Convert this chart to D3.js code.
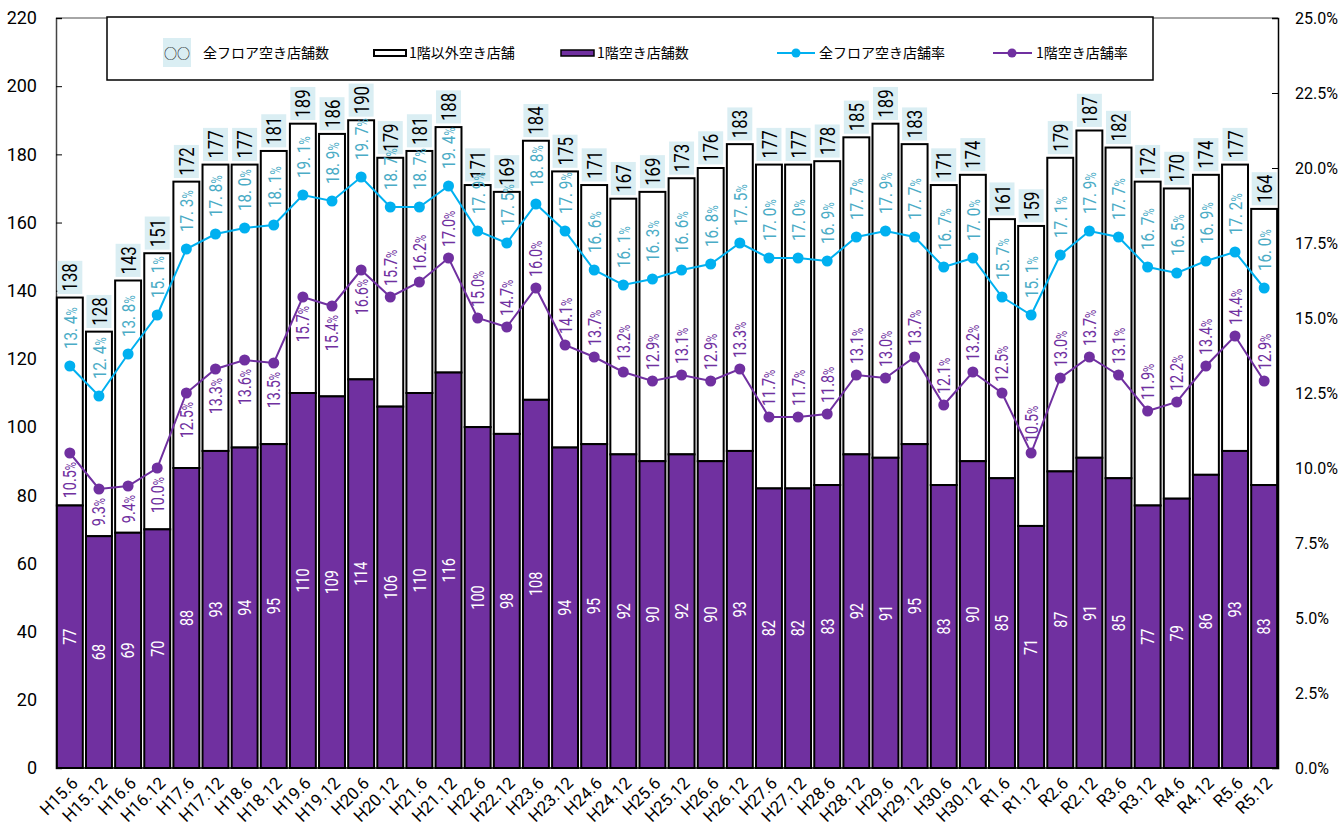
<!DOCTYPE html>
<html>
<head>
<meta charset="utf-8">
<script src="https://cdn.jsdelivr.net/npm/d3@7"></script>
<style>
  body { margin: 0; background: #fff; }
  svg { display: block; font-family: Roboto, "Liberation Sans", Arial, sans-serif; }
</style>
</head>
<body>
<div id="chart"></div>
<script>
// data
const categories = [
  "H15.6", "H15.12", "H16.6", "H16.12", "H17.6", "H17.12", "H18.6", "H18.12",
  "H19.6", "H19.12", "H20.6", "H20.12", "H21.6", "H21.12", "H22.6", "H22.12",
  "H23.6", "H23.12", "H24.6", "H24.12", "H25.6", "H25.12", "H26.6", "H26.12",
  "H27.6", "H27.12", "H28.6", "H28.12", "H29.6", "H29.12", "H30.6", "H30.12",
  "R1.6", "R1.12", "R2.6", "R2.12", "R3.6", "R3.12", "R4.6", "R4.12", "R5.6", "R5.12"
]
const totalShops = [
  138, 128, 143, 151, 172, 177, 177, 181, 189, 186, 190, 179, 181, 188, 171, 169,
  184, 175, 171, 167, 169, 173, 176, 183, 177, 177, 178, 185, 189, 183, 171, 174,
  161, 159, 179, 187, 182, 172, 170, 174, 177, 164
]
const firstFloorShops = [
  77, 68, 69, 70, 88, 93, 94, 95, 110, 109, 114, 106, 110, 116, 100, 98,
  108, 94, 95, 92, 90, 92, 90, 93, 82, 82, 83, 92, 91, 95, 83, 90,
  85, 71, 87, 91, 85, 77, 79, 86, 93, 83
]
const totalRate = [
  13.4, 12.4, 13.8, 15.1, 17.3, 17.8, 18.0, 18.1, 19.1, 18.9, 19.7, 18.7, 18.7, 19.4, 17.9, 17.5,
  18.8, 17.9, 16.6, 16.1, 16.3, 16.6, 16.8, 17.5, 17.0, 17.0, 16.9, 17.7, 17.9, 17.7, 16.7, 17.0,
  15.7, 15.1, 17.1, 17.9, 17.7, 16.7, 16.5, 16.9, 17.2, 16.0
]
const firstFloorRate = [
  10.5, 9.3, 9.4, 10.0, 12.5, 13.3, 13.6, 13.5, 15.7, 15.4, 16.6, 15.7, 16.2, 17.0, 15.0, 14.7,
  16.0, 14.1, 13.7, 13.2, 12.9, 13.1, 12.9, 13.3, 11.7, 11.7, 11.8, 13.1, 13.0, 13.7, 12.1, 13.2,
  12.5, 10.5, 13.0, 13.7, 13.1, 11.9, 12.2, 13.4, 14.4, 12.9
]
const countTicks = [0, 20, 40, 60, 80, 100, 120, 140, 160, 180, 200, 220]
const rateTicks = [0, 2.5, 5, 7.5, 10, 12.5, 15, 17.5, 20, 22.5, 25]

const PURPLE = "#7030a0"
const CYAN = "#00b0f0"
const CYAN_TEXT = "#4bacc6"
const LABEL_BG = "#daeef3"
// data labels in the original are a condensed face; squeeze along the text direction
const SQUEEZE = " scale(0.8,1)"

var width = 1342,
  height = 827,
  plotLeft = 56,
  plotRight = 1278,
  plotTop = 18,
  plotBottom = 768

var svg = d3
  .select("#chart")
  .append("svg")
  .attr("width", width)
  .attr("height", height)

var x = d3
  .scaleBand()
  .domain(categories)
  .range([plotLeft, plotRight])
  .paddingInner(0.11)
  .paddingOuter(0.03)

var y = d3.scaleLinear().domain([0, 220]).range([plotBottom, plotTop])
var yRate = d3.scaleLinear().domain([0, 25]).range([plotBottom, plotTop])

var cx = function(i) {
  return x(categories[i]) + x.bandwidth() / 2
}

/* ------- FRAME + AXES -------*/
svg.append("line")
  .attr("x1", plotLeft).attr("x2", plotRight).attr("y1", plotTop).attr("y2", plotTop)
  .attr("stroke", "#888").attr("stroke-width", 1.5)

var yAxis = svg.append("g")
  .attr("transform", "translate(" + plotLeft + ",0)")
  .call(d3.axisLeft(y).tickValues(countTicks).tickSize(-6).tickPadding(19))
yAxis.select(".domain").attr("stroke", "#444").attr("stroke-width", 1.5)
yAxis.selectAll("text").attr("font-size", 18).attr("fill", "#000")
  .style("font-family", "Roboto, sans-serif")

var rAxis = svg.append("g")
  .attr("transform", "translate(" + plotRight + ",0)")
  .call(
    d3.axisRight(yRate)
      .tickValues(rateTicks)
      .tickSize(-6)
      .tickPadding(17)
      .tickFormat(function(d) { return d.toFixed(1) + "%" })
  )
rAxis.select(".domain").attr("stroke", "#000").attr("stroke-width", 1.5)
rAxis.selectAll("text").attr("font-size", 16).attr("fill", "#000")
  .style("font-family", "Roboto, sans-serif")

/* ------- BARS -------*/
var bars = svg.append("g").attr("class", "bars")

bars.selectAll("rect.upper")
  .data(categories)
  .join("rect")
  .attr("class", "upper")
  .attr("x", function(d) { return x(d) })
  .attr("width", x.bandwidth())
  .attr("y", function(d, i) { return y(totalShops[i]) })
  .attr("height", function(d, i) { return y(firstFloorShops[i]) - y(totalShops[i]) })
  .attr("fill", "#fff")
  .attr("stroke", "#000")
  .attr("stroke-width", 2)

bars.selectAll("rect.lower")
  .data(categories)
  .join("rect")
  .attr("class", "lower")
  .attr("x", function(d) { return x(d) })
  .attr("width", x.bandwidth())
  .attr("y", function(d, i) { return y(firstFloorShops[i]) })
  .attr("height", function(d, i) { return y(0) - y(firstFloorShops[i]) })
  .attr("fill", PURPLE)
  .attr("stroke", "#000")
  .attr("stroke-width", 2)

svg.append("line")
  .attr("x1", plotLeft).attr("x2", plotRight).attr("y1", plotBottom).attr("y2", plotBottom)
  .attr("stroke", "#000").attr("stroke-width", 1.5)

// white numbers inside purple bars
svg.append("g").selectAll("text")
  .data(categories)
  .join("text")
  .attr("transform", function(d, i) {
    return "translate(" + cx(i) + "," + y(firstFloorShops[i] / 2) + ") rotate(-90)" + SQUEEZE
  })
  .attr("text-anchor", "middle")
  .attr("dy", "0.35em")
  .attr("font-size", 18)
  .attr("fill", "#fff")
  .text(function(d, i) { return firstFloorShops[i] })

/* ------- CATEGORY LABELS -------*/
svg.append("g").selectAll("text")
  .data(categories)
  .join("text")
  .attr("transform", function(d, i) {
    return "translate(" + (cx(i) + 5) + "," + 780 + ") rotate(-45)"
  })
  .attr("text-anchor", "end")
  .attr("dy", "0.35em")
  .attr("font-size", 17)
  .attr("fill", "#000")
  .text(function(d) { return d })

/* ------- LINES -------*/
function drawRate(values, color, r) {
  var line = d3.line()
    .x(function(d, i) { return cx(i) })
    .y(function(d) { return yRate(d) })
  svg.append("path")
    .datum(values)
    .attr("d", line)
    .attr("fill", "none")
    .attr("stroke", color)
    .attr("stroke-width", 2)
  svg.append("g").selectAll("circle")
    .data(values)
    .join("circle")
    .attr("cx", function(d, i) { return cx(i) })
    .attr("cy", function(d) { return yRate(d) })
    .attr("r", r)
    .attr("fill", color)
}
drawRate(totalRate, CYAN, 5.5)
drawRate(firstFloorRate, PURPLE, 5.5)

/* ------- TOTAL LABELS (boxed) -------*/
var totals = svg.append("g").selectAll("g")
  .data(categories)
  .join("g")
  .attr("transform", function(d, i) {
    return "translate(" + cx(i) + "," + (y(totalShops[i]) - 6) + ") rotate(-90)" + SQUEEZE
  })
totals.append("text")
  .attr("dy", "0.36em")
  .attr("font-size", 21)
  .attr("fill", "#000")
  .text(function(d, i) { return totalShops[i] })
totals.insert("rect", "text")
  .attr("x", -3)
  .attr("y", -12.5)
  .attr("height", 25)
  .attr("width", function() {
    return this.parentNode.querySelector("text").getComputedTextLength() + 6
  })
  .attr("fill", LABEL_BG)

/* ------- RATE LABELS -------*/
svg.append("g").selectAll("text")
  .data(totalRate)
  .join("text")
  .attr("transform", function(d, i) {
    return "translate(" + cx(i) + "," + (yRate(d) - 17) + ") rotate(-90)" + SQUEEZE
  })
  .attr("dy", "0.36em")
  .attr("font-size", 19)
  .attr("fill", CYAN_TEXT)
  .each(function(d) {
    var t = d3.select(this)
    t.append("tspan").text(d.toFixed(1).replace(".", ". "))
    t.append("tspan").attr("font-size", 14).text("%")
  })

svg.append("g").selectAll("text")
  .data(firstFloorRate)
  .join("text")
  .attr("transform", function(d, i) {
    // early labels sit under the marker, later ones above it
    var below = i <= 10
    return "translate(" + cx(i) + "," + (below ? yRate(d) + 9 : yRate(d) - 11) + ") rotate(-90)" + SQUEEZE
  })
  .attr("text-anchor", function(d, i) { return i <= 10 ? "end" : "start" })
  .attr("dy", "0.36em")
  .attr("font-size", 18)
  .attr("fill", PURPLE)
  .each(function(d) {
    var t = d3.select(this)
    t.append("tspan").text(d.toFixed(1))
    t.append("tspan").attr("font-size", 14).text("%")
  })

/* ------- LEGEND -------*/
var legend = svg.append("g").attr("class", "legend")
  .style("font-family", "'Noto Sans CJK JP', sans-serif")
  .attr("font-size", 14)
  .attr("fill", "#000")

legend.append("rect")
  .attr("x", 107).attr("y", 17).attr("width", 1046).attr("height", 63)
  .attr("fill", "#fff").attr("stroke", "#000").attr("stroke-width", 1.5)

var ly = 53
legend.append("rect")
  .attr("x", 163).attr("y", 38).attr("width", 28).attr("height", 29)
  .attr("fill", LABEL_BG)
legend.append("text")
  .attr("x", 177).attr("y", ly).attr("dy", "0.35em")
  .attr("text-anchor", "middle").attr("font-size", 13)
  .text("○○")
legend.append("text")
  .attr("x", 203).attr("y", ly).attr("dy", "0.35em").text("全フロア空き店舗数")

legend.append("rect")
  .attr("x", 374).attr("y", ly - 3).attr("width", 32).attr("height", 6)
  .attr("fill", "#fff").attr("stroke", "#000").attr("stroke-width", 2)
legend.append("text")
  .attr("x", 409).attr("y", ly).attr("dy", "0.35em").text("1階以外空き店舗")

legend.append("rect")
  .attr("x", 561).attr("y", ly - 3).attr("width", 33).attr("height", 6)
  .attr("fill", PURPLE).attr("stroke", "#000").attr("stroke-width", 1.5)
legend.append("text")
  .attr("x", 597).attr("y", ly).attr("dy", "0.35em").text("1階空き店舗数")

legend.append("line")
  .attr("x1", 777).attr("x2", 815).attr("y1", ly).attr("y2", ly)
  .attr("stroke", CYAN).attr("stroke-width", 2)
legend.append("circle").attr("cx", 796).attr("cy", ly).attr("r", 4.5).attr("fill", CYAN)
legend.append("text")
  .attr("x", 819).attr("y", ly).attr("dy", "0.35em").text("全フロア空き店舗率")

legend.append("line")
  .attr("x1", 993).attr("x2", 1032).attr("y1", ly).attr("y2", ly)
  .attr("stroke", PURPLE).attr("stroke-width", 2)
legend.append("circle").attr("cx", 1012).attr("cy", ly).attr("r", 4.5).attr("fill", PURPLE)
legend.append("text")
  .attr("x", 1036).attr("y", ly).attr("dy", "0.35em").text("1階空き店舗率")
</script>
</body>
</html>
